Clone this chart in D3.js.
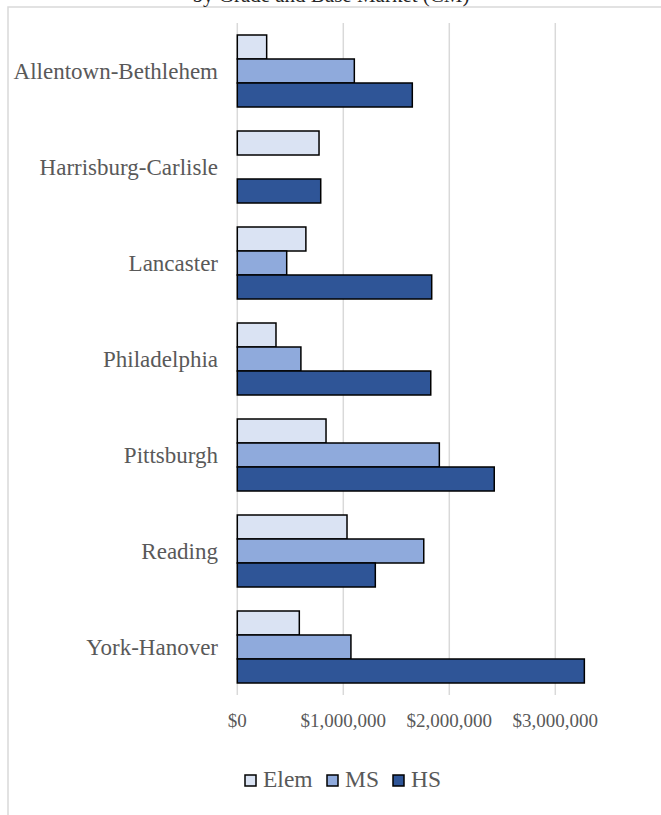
<!DOCTYPE html>
<html>
<head>
<meta charset="utf-8">
<script src="https://cdn.jsdelivr.net/npm/d3@7"></script>
<style>
  body { margin: 0; background: #fff; }
  text { font-family: "Liberation Serif", "Times New Roman", serif; }
</style>
</head>
<body>
<svg id="chart"></svg>
<script>
// Data
const regions = ["Allentown-Bethlehem", "Harrisburg-Carlisle", "Lancaster", "Philadelphia", "Pittsburgh", "Reading", "York-Hanover"];
const seriesNames = ["Elem", "MS", "HS"];
const elemValues = [277000, 771000, 647000, 365000, 837000, 1035000, 585000];
const msValues = [1104000, 0, 466000, 600000, 1906000, 1759000, 1072000];
const hsValues = [1651000, 787000, 1834000, 1825000, 2424000, 1302000, 3274000];
const tickValues = [0, 1000000, 2000000, 3000000];
const colors = ["#dae3f3", "#8faadc", "#2f5597"];

const W = 661, H = 815;
const svg = d3.select("#chart")
    .attr("width", W)
    .attr("height", H);

// chart frame (it runs off the right and bottom of the picture)
svg.append("rect")
    .attr("x", 8).attr("y", 7)
    .attr("width", 700).attr("height", 850)
    .attr("fill", "none")
    .attr("stroke", "#d9d9d9")
    .attr("stroke-width", 1.5);

// title, mostly cut off at the top like in the original
svg.append("text")
    .attr("x", 331).attr("y", 1.5)
    .attr("text-anchor", "middle")
    .attr("font-size", 21)
    .attr("fill", "#262626")
    .text("by Grade and Base Market (CM)");

const x = d3.scaleLinear()
    .domain([0, 4000000])
    .range([237.3, 661.3]);

const y = d3.scaleBand()
    .domain(regions)
    .range([23, 695])
    .paddingInner(0.25)
    .paddingOuter(0.125);

const ySub = d3.scaleBand()
    .domain(seriesNames)
    .range([0, y.bandwidth()]);

// gridlines
svg.append("g")
    .selectAll("line")
    .data(tickValues)
    .enter().append("line")
    .attr("x1", d => x(d)).attr("x2", d => x(d))
    .attr("y1", 23).attr("y2", 695)
    .attr("stroke", "#d9d9d9")
    .attr("stroke-width", 1.5);

// x tick labels
const fmt = d => "$" + d3.format(",")(d);
svg.append("g")
    .selectAll("text")
    .data(tickValues)
    .enter().append("text")
    .attr("x", d => x(d))
    .attr("y", 727)
    .attr("text-anchor", "middle")
    .attr("font-size", 19)
    .attr("fill", "#595959")
    .text(fmt);

// bars
const rows = regions.map((r, i) => ({
    region: r,
    values: [elemValues[i], msValues[i], hsValues[i]]
}));

const group = svg.append("g")
    .selectAll("g")
    .data(rows)
    .enter().append("g")
    .attr("transform", d => `translate(0,${y(d.region)})`);

group.selectAll("rect")
    .data(d => d.values.map((v, j) => ({ name: seriesNames[j], value: v, j: j })).filter(e => e.value > 0))
    .enter().append("rect")
    .attr("x", x(0))
    .attr("y", d => ySub(d.name))
    .attr("width", d => x(d.value) - x(0))
    .attr("height", ySub.bandwidth())
    .attr("fill", d => colors[d.j])
    .attr("stroke", "#000")
    .attr("stroke-width", 1.5);

// category labels
svg.append("g")
    .selectAll("text")
    .data(regions)
    .enter().append("text")
    .attr("x", 218)
    .attr("y", d => y(d) + y.bandwidth() / 2)
    .attr("dy", "0.35em")
    .attr("text-anchor", "end")
    .attr("font-size", 23)
    .attr("fill", "#595959")
    .text(d => d);

// legend
const legendX = [245, 327, 393];
const legend = svg.append("g")
    .selectAll("g")
    .data(seriesNames)
    .enter().append("g")
    .attr("transform", (d, i) => `translate(${legendX[i]},775)`);

legend.append("rect")
    .attr("width", 11).attr("height", 11)
    .attr("fill", (d, i) => colors[i])
    .attr("stroke", "#000")
    .attr("stroke-width", 1.5);

legend.append("text")
    .attr("x", 18)
    .attr("y", 12)
    .attr("font-size", 23.5)
    .attr("fill", "#595959")
    .text(d => d);
</script>
</body>
</html>
